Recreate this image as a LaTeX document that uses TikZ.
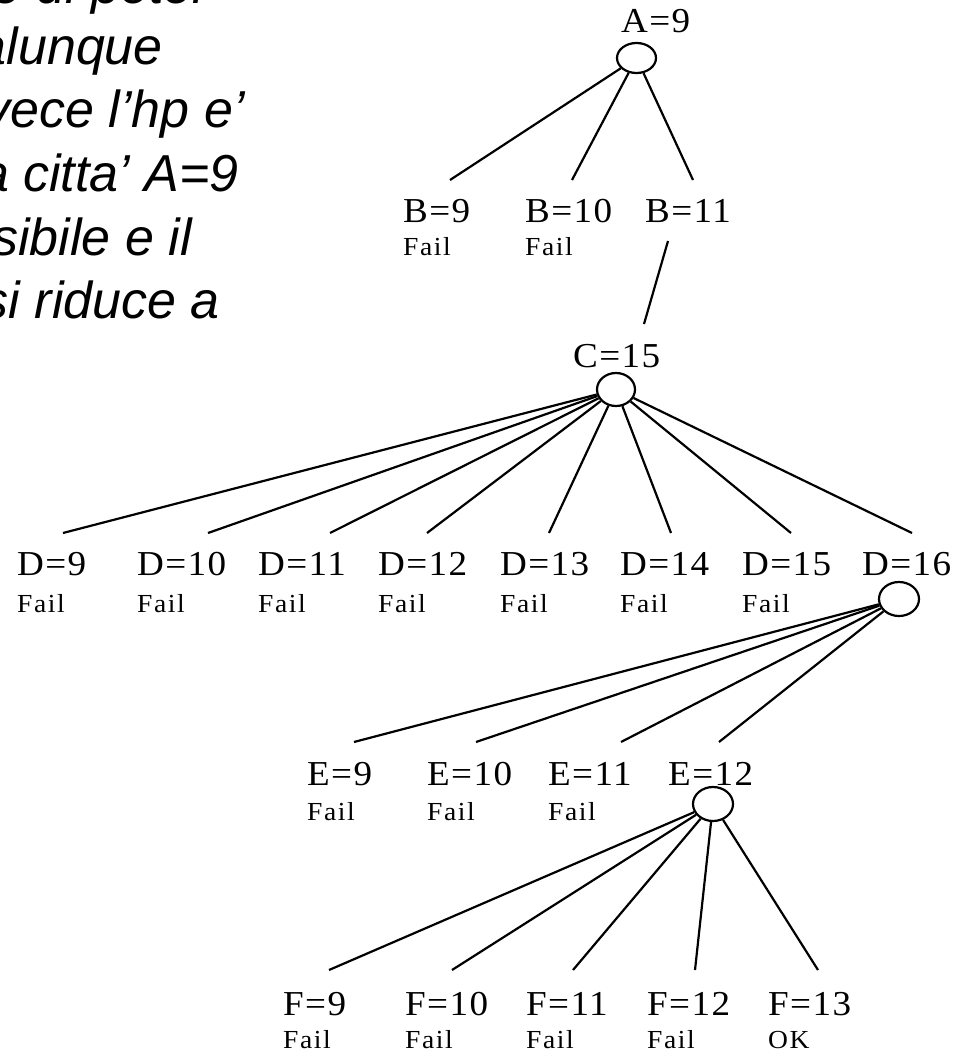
\documentclass[tikz,border=0pt]{standalone}
\usepackage{fontspec}
\usetikzlibrary{shapes.geometric}
\newfontfamily\lblfont[LetterSpace=4,FakeStretch=1.06]{Liberation Serif}
\newfontfamily\failfont[LetterSpace=6,FakeStretch=1.06]{Liberation Serif}
\newfontfamily\notefont{Liberation Sans}
\begin{document}
\begin{tikzpicture}[x=1pt,y=-1pt,
  ell/.style={ellipse, draw, inner sep=0pt, line width=2.2pt},
  lbl/.style={anchor=base west, inner sep=0pt, font=\lblfont\fontsize{35}{38}\selectfont},
  fail/.style={anchor=base west, inner sep=0pt, font=\failfont\fontsize{26}{28}\selectfont},
  note/.style={anchor=base east, inner sep=0pt, font=\notefont\itshape\fontsize{52}{60}\selectfont},
  edge/.style={draw, line width=2.2pt}]
\useasboundingbox (0,0) rectangle (958,1051);
\clip (0,0) rectangle (958,1051);

% side note (cut off at the picture's edges)
\node[note] (n0) at (210,4) {e di poter};
\node[note] (n1) at (163,65) {alunque};
\node[note] (n2) at (245,128) {vece l’hp e’};
\node[note] (n3) at (239,192) {a citta’ A=9};
\node[note] (n4) at (192,255) {sibile e il};
\node[note] (n5) at (220,318) {si riduce a};

% ellipses
\node[ell, minimum width=39pt, minimum height=30pt] (A) at (636.5,58) {};
\node[ell, minimum width=38pt, minimum height=33pt] (C) at (616,389.5) {};
\node[ell, minimum width=40pt, minimum height=34pt] (D16) at (899,599) {};
\node[ell, minimum width=40pt, minimum height=34pt] (E12) at (713,804) {};

% labels
\node[lbl] (lA) at (621,33) {A=9};
\node[lbl] (lB9) at (403,222) {B=9};
\node[lbl] (lB10) at (525,222) {B=10};
\node[lbl] (lB11) at (645,222) {B=11};
\node[fail] (fB9) at (403,255) {Fail};
\node[fail] (fB10) at (525,255) {Fail};
\node[lbl] (lC) at (573,367) {C=15};

\foreach \i/\x in {9/17,10/137,11/258,12/378,13/500,14/620,15/742,16/862}
  \node[lbl] (lD\i) at (\x,575) {D=\i};
\foreach \i/\x in {9/17,10/137,11/258,12/378,13/500,14/620,15/742}
  \node[fail] (fD\i) at (\x,612) {Fail};

\foreach \i/\x in {9/307,10/427,11/548,12/668}
  \node[lbl] (lE\i) at (\x,785) {E=\i};
\foreach \i/\x in {9/307,10/427,11/548}
  \node[fail] (fE\i) at (\x,820) {Fail};

\foreach \i/\x in {9/283,10/405,11/526,12/647,13/768}
  \node[lbl] (lF\i) at (\x,1015) {F=\i};
\foreach \i/\x in {9/283,10/405,11/526,12/647}
  \node[fail] (fF\i) at (\x,1048) {Fail};
\node[fail] (fF13) at (768,1048) {OK};

% connector ends
\coordinate (tB9) at (450,180);
\coordinate (tB10) at (572,180);
\coordinate (tB11) at (693,180);
\coordinate (bB11) at (668,241);
\coordinate (tC) at (644,324);
\foreach \i/\x in {9/63,10/208,11/330,12/427,13/549,14/671,15/791,16/912}
  \coordinate (tD\i) at (\x,533);
\foreach \i/\x in {9/354,10/476,11/621,12/719}
  \coordinate (tE\i) at (\x,742);
\foreach \i/\x in {9/329,10/452,11/573,12/695,13/818}
  \coordinate (tF\i) at (\x,970);

% connectors
\foreach \b in {B9,B10,B11}
  \path[edge] (A) -- (t\b);
\path[edge] (bB11) -- (tC);
\foreach \i in {9,...,16}
  \path[edge] (C) -- (tD\i);
\foreach \i in {9,...,12}
  \path[edge] (D16) -- (tE\i);
\foreach \i in {9,...,13}
  \path[edge] (E12) -- (tF\i);
\end{tikzpicture}
\end{document}
